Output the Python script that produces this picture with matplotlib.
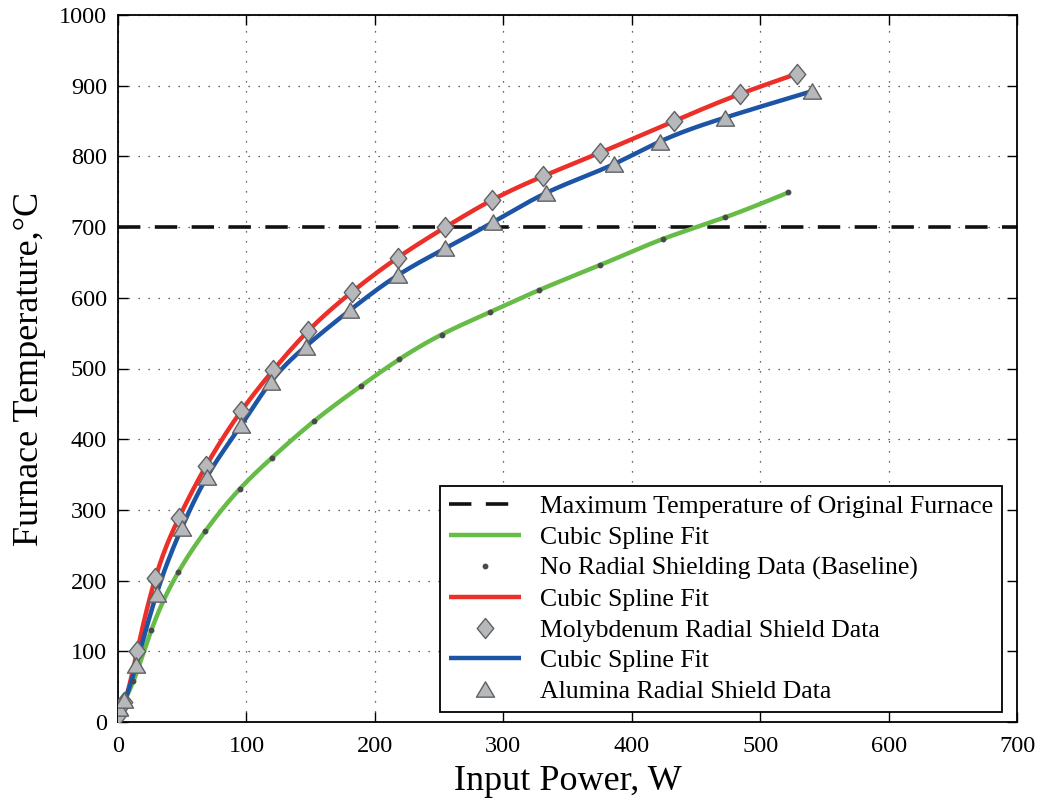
import numpy as np
import matplotlib
matplotlib.use("Agg")
import matplotlib.pyplot as plt
from matplotlib.path import Path

plt.rcParams['font.family'] = ['Liberation Serif', 'DejaVu Serif']
plt.rcParams['mathtext.fontset'] = 'stix'

# ---- data ----
base_w = [1, 12, 26, 47, 68, 95, 120, 153, 189, 219, 252, 290, 328, 375, 424, 473, 522]
base_t = [15, 58, 130, 212, 270, 330, 374, 426, 475, 513, 548, 580, 611, 646, 683, 714, 749]

mo_w = [1, 5, 15, 29, 47.5, 68.5, 96, 121, 148, 182, 218, 255, 291, 331, 375, 433, 484, 529]
mo_t = [12, 28, 101, 203, 289, 362, 440, 498, 553, 608, 657, 700, 738, 772, 805, 850, 888, 917]

al_w = [1, 5, 14, 30, 49.5, 69, 96, 119, 146, 181, 218, 255, 292, 333, 386, 422, 473, 540]
al_t = [20, 31, 80, 181, 274, 346, 420, 481, 531, 583, 632, 670, 707, 748, 789, 821, 855, 892]

max_temp = 700

legend_labels = ["Maximum Temperature of Original Furnace", "Cubic Spline Fit",
                 "No Radial Shielding Data (Baseline)", "Cubic Spline Fit",
                 "Molybdenum Radial Shield Data", "Cubic Spline Fit",
                 "Alumina Radial Shield Data"]


def natural_spline(x, y, n=400):
    x = np.asarray(x, float); y = np.asarray(y, float)
    m = len(x); h = np.diff(x)
    A = np.zeros((m, m)); r = np.zeros(m)
    A[0, 0] = A[-1, -1] = 1
    for i in range(1, m - 1):
        A[i, i - 1] = h[i - 1]; A[i, i] = 2 * (h[i - 1] + h[i]); A[i, i + 1] = h[i]
        r[i] = 3 * ((y[i + 1] - y[i]) / h[i] - (y[i] - y[i - 1]) / h[i - 1])
    c = np.linalg.solve(A, r)
    b = (y[1:] - y[:-1]) / h - h * (2 * c[:-1] + c[1:]) / 3
    d = (c[1:] - c[:-1]) / (3 * h)
    xs = np.linspace(x[0], x[-1], n)
    idx = np.clip(np.searchsorted(x, xs) - 1, 0, m - 2)
    dx = xs - x[idx]
    ys = y[idx] + b[idx] * dx + c[idx] * dx ** 2 + d[idx] * dx ** 3
    return xs, ys


fig = plt.figure(figsize=(10.39, 7.98), dpi=100)
ax = fig.add_axes([118 / 1039, 1 - 722 / 798, 899 / 1039, 707 / 798])

diamond = Path([(0, 1), (0.82, 0), (0, -1), (-0.82, 0), (0, 1)],
               [Path.MOVETO, Path.LINETO, Path.LINETO, Path.LINETO, Path.CLOSEPOLY])
triangle = Path([(0, 0.85), (1, -0.85), (-1, -0.85), (0, 0.85)],
                [Path.MOVETO, Path.LINETO, Path.LINETO, Path.CLOSEPOLY])

red = '#ec2f28'
green = '#66bc46'
blue = '#1d55a6'
mface = '#b7b8bb'
medge = '#606163'

h0, = ax.plot([0, 700], [max_temp, max_temp], color='#111111', lw=2.6,
              dashes=(6.2, 4), zorder=2)

gx, gy = natural_spline(base_w, base_t)
h1, = ax.plot(gx, gy, color=green, lw=3.2, zorder=3, solid_capstyle='butt')
h2, = ax.plot(base_w, base_t, ls='none', marker='o', ms=3.2, color='#4a4a4c',
              mec='#4a4a4c', zorder=6)

rx, ry = natural_spline(mo_w, mo_t)
h3, = ax.plot(rx, ry, color=red, lw=3.2, zorder=3, solid_capstyle='butt')
h4, = ax.plot(mo_w, mo_t, ls='none', marker=diamond, ms=14.5, mfc=mface,
              mec=medge, mew=1.0, zorder=6)

bx, by = natural_spline(al_w, al_t)
h5, = ax.plot(bx, by, color=blue, lw=3.2, zorder=4, solid_capstyle='butt')
h6, = ax.plot(al_w, al_t, ls='none', marker=triangle, ms=13, mfc=mface,
              mec=medge, mew=1.0, zorder=7)

ax.set_xlim(0, 700)
ax.set_ylim(0, 1000)
ax.set_xticks(np.arange(0, 701, 100))
ax.set_yticks(np.arange(0, 1001, 100))
ax.tick_params(direction='in', length=7, width=1, top=True, right=True,
               labelsize=17.5)
ax.tick_params(axis='x', pad=10)
ax.tick_params(axis='y', pad=8)
for s in ax.spines.values():
    s.set_linewidth(1.3)
ax.grid(True, color='#333333', lw=0.9, linestyle=(0, (1, 7)))
ax.set_axisbelow(True)

ax.set_xlabel('Input Power, W', fontsize=26, labelpad=6)
ax.set_ylabel('Furnace Temperature,°C', fontsize=26, labelpad=9)

leg = ax.legend([h0, h1, h2, h3, h4, h5, h6], legend_labels, loc='lower right',
                bbox_to_anchor=((1002 - 118) / 899, 10 / 707), borderaxespad=0,
                fontsize=18.5, handlelength=2.8, handletextpad=0.75,
                labelspacing=0.3, fancybox=False, framealpha=1,
                edgecolor='black', borderpad=0.35)
leg.get_frame().set_linewidth(1.3)

fig.savefig('out.png', dpi=100)
